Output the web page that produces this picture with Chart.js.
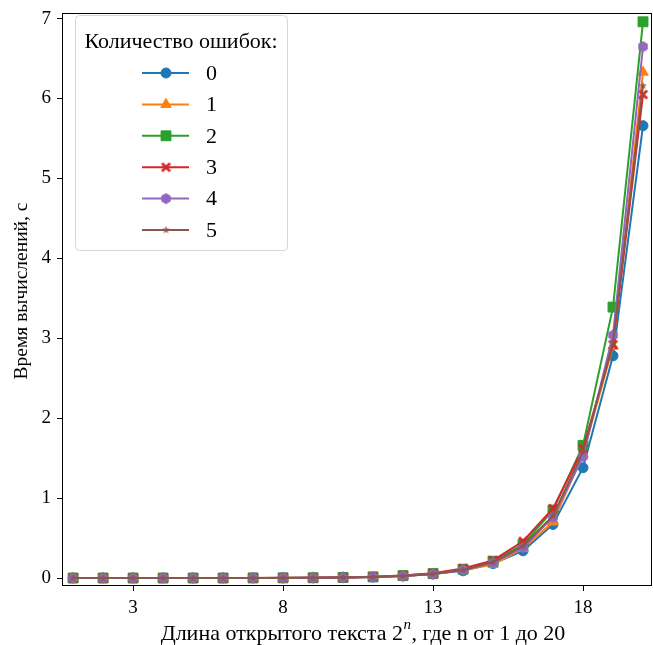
<!DOCTYPE html>
<html>
<head>
<meta charset="utf-8">
<script src="https://cdn.jsdelivr.net/npm/chart.js@4.4.1/dist/chart.umd.min.js"></script>
<style>
  body { margin: 0; background: #fff; }
  #wrap { width: 653px; height: 645px; }
</style>
</head>
<body>
<div id="wrap"><canvas id="chart" width="653" height="645"></canvas></div>
<script>
// n = 1..20, text length 2^n
const nValues = [1,2,3,4,5,6,7,8,9,10,11,12,13,14,15,16,17,18,19,20];
const xTicks = [3, 8, 13, 18];
const yTicks = [0, 1, 2, 3, 4, 5, 6, 7];
const errorLabels = ['0', '1', '2', '3', '4', '5'];

// time in seconds for each number of errors
const errors0 = [0,0,0,0,0,0,0.001,0.001,0.003,0.006,0.012,0.025,0.05,0.09,0.18,0.34,0.67,1.38,2.78,5.66];
const errors1 = [0,0,0,0,0,0,0.001,0.001,0.003,0.006,0.012,0.025,0.05,0.10,0.17,0.37,0.70,1.55,2.90,6.33];
const errors2 = [0,0,0,0,0,0,0.001,0.002,0.003,0.007,0.014,0.03,0.055,0.11,0.21,0.42,0.85,1.66,3.39,6.96];
const errors3 = [0,0,0,0,0,0,0.001,0.002,0.003,0.007,0.015,0.03,0.06,0.12,0.22,0.46,0.87,1.62,2.92,6.05];
const errors4 = [0,0,0,0,0,0,0.001,0.001,0.003,0.006,0.012,0.025,0.05,0.10,0.19,0.38,0.76,1.52,3.04,6.65];
const errors5 = [0,0,0,0,0,0,0.001,0.001,0.003,0.006,0.013,0.025,0.05,0.10,0.20,0.40,0.78,1.58,2.95,6.16];

const colors = ['#1f77b4', '#ff7f0e', '#2ca02c', '#d62728', '#9467bd', '#8c564b'];
const allSeries = [errors0, errors1, errors2, errors3, errors4, errors5];

// custom marker shapes (hexagon, filled X, filled star)
function markerCanvas(color, size, drawShape) {
    const c = document.createElement('canvas');
    c.width = size; c.height = size;
    const g = c.getContext('2d');
    g.fillStyle = color;
    g.beginPath();
    drawShape(g, size / 2);
    g.closePath();
    g.fill();
    return c;
}
function hexagon(g, h) {
    const r = h - 0.5;
    for (let i = 0; i < 6; i++) {
        const a = -Math.PI / 2 + i * Math.PI / 3;
        const px = h + r * Math.cos(a), py = h + r * Math.sin(a);
        if (i === 0) g.moveTo(px, py); else g.lineTo(px, py);
    }
}
function filledX(g, h) {
    const r = h - 0.5, w = r * 0.38;
    const pts = [[0,-w],[r-w,-r],[r,-r+w],[w,0],[r,r-w],[r-w,r],[0,w],[-r+w,r],[-r,r-w],[-w,0],[-r,-r+w],[-r+w,-r]];
    pts.forEach((p, i) => { if (i === 0) g.moveTo(h + p[0], h + p[1]); else g.lineTo(h + p[0], h + p[1]); });
}
function star(g, h) {
    const ro = h - 0.5, ri = ro * 0.42;
    for (let i = 0; i < 10; i++) {
        const a = -Math.PI / 2 + i * Math.PI / 5;
        const r = i % 2 === 0 ? ro : ri;
        const px = h + r * Math.cos(a), py = h + r * Math.sin(a);
        if (i === 0) g.moveTo(px, py); else g.lineTo(px, py);
    }
}

const pointStyles = [
    'circle',
    'triangle',
    'rect',
    markerCanvas(colors[3], 11, filledX),
    markerCanvas(colors[4], 12, hexagon),
    markerCanvas(colors[5], 9, star)
];
const pointRadii = [5, 6, 7, 5, 5, 4];

Chart.defaults.font.family = '"Liberation Serif", "Times New Roman", serif';
Chart.defaults.color = '#000';

const datasets = allSeries.map((values, i) => ({
    label: errorLabels[i],
    data: values.map((v, j) => ({ x: nValues[j], y: v })),
    borderColor: colors[i],
    backgroundColor: colors[i],
    borderWidth: 2,
    pointStyle: pointStyles[i],
    pointRadius: pointRadii[i],
    pointBorderWidth: 1,
    pointHoverRadius: pointRadii[i],
    order: allSeries.length - i,
    tension: 0,
    clip: false
}));

// legend in the upper-left corner, frame on all four sides, axis titles
const decorPlugin = {
    id: 'decor',
    afterDraw(chart) {
        const ctx = chart.ctx;
        const a = chart.chartArea;
        ctx.save();
        ctx.strokeStyle = '#000';
        ctx.lineWidth = 1;
        ctx.strokeRect(a.left + 0.5, a.top + 0.5, a.right - a.left - 1, a.bottom - a.top - 1);

        // legend box
        const bx = 75, by = 15, bw = 212, bh = 235;
        ctx.fillStyle = 'rgba(255,255,255,0.8)';
        ctx.strokeStyle = '#d6d6d6';
        ctx.beginPath();
        ctx.roundRect(bx + 0.5, by + 0.5, bw, bh, 4);
        ctx.fill();
        ctx.stroke();

        ctx.fillStyle = '#000';
        ctx.font = '22px "Liberation Serif"';
        ctx.textAlign = 'center';
        ctx.textBaseline = 'middle';
        ctx.fillText('Количество ошибок:', bx + bw / 2, 42);

        chart.data.datasets.forEach((ds, i) => {
            const y = 73 + i * 31.4;
            ctx.strokeStyle = ds.borderColor;
            ctx.lineWidth = 2;
            ctx.beginPath();
            ctx.moveTo(142, y);
            ctx.lineTo(189, y);
            ctx.stroke();
            ctx.fillStyle = ds.backgroundColor;
            ctx.strokeStyle = ds.borderColor;
            ctx.lineWidth = 1;
            Chart.helpers.drawPoint(ctx, {
                pointStyle: ds.pointStyle, radius: ds.pointRadius, borderWidth: 1, rotation: 0
            }, 166, y);
            ctx.fillStyle = '#000';
            ctx.textAlign = 'left';
            ctx.font = '22px "Liberation Serif"';
            ctx.fillText(ds.label, 206, y + 1);
        });

        // y axis title
        ctx.fillStyle = '#000';
        ctx.font = '19.5px "Liberation Serif"';
        ctx.textAlign = 'center';
        ctx.textBaseline = 'middle';
        ctx.save();
        ctx.translate(22, 291);
        ctx.rotate(-Math.PI / 2);
        ctx.fillText('Время вычислений, с', 0, 0);
        ctx.restore();

        // x axis title with superscript n
        const part1 = 'Длина открытого текста 2';
        const sup = 'n';
        const part2 = ', где n от 1 до 20';
        ctx.font = '22px "Liberation Serif"';
        const w1 = ctx.measureText(part1).width;
        const w3 = ctx.measureText(part2).width;
        ctx.font = 'italic 15px "Liberation Serif"';
        const w2 = ctx.measureText(sup).width + 1;
        let x = 363 - (w1 + w2 + w3) / 2;
        const ty = 634;
        ctx.textAlign = 'left';
        ctx.font = '22px "Liberation Serif"';
        ctx.fillText(part1, x, ty);
        x += w1;
        ctx.font = 'italic 15px "Liberation Serif"';
        ctx.fillText(sup, x + 0.5, ty - 9);
        x += w2;
        ctx.font = '22px "Liberation Serif"';
        ctx.fillText(part2, x, ty);
        ctx.restore();
    }
};

const ctx = document.getElementById('chart').getContext('2d');
const chart = new Chart(ctx, {
    type: 'line',
    data: { datasets: datasets },
    options: {
        responsive: false,
        animation: false,
        layout: { autoPadding: false, padding: { top: 13, right: 1, left: 0, bottom: 0 } },
        plugins: {
            legend: { display: false },
            tooltip: { enabled: false }
        },
        scales: {
            x: {
                type: 'linear',
                min: 0.63,
                max: 20.3,
                afterBuildTicks: scale => { scale.ticks = xTicks.map(v => ({ value: v })); },
                afterFit: scale => {
                    scale.height = 59;
                    scale.paddingLeft = 0; scale.paddingRight = 0;
                },
                grid: { drawOnChartArea: false, drawTicks: true, tickLength: 5, color: '#000' },
                border: { display: false },
                ticks: { font: { size: 19 }, padding: 6, maxRotation: 0 }
            },
            y: {
                type: 'linear',
                min: -0.1,
                max: 7.07,
                afterBuildTicks: scale => { scale.ticks = yTicks.map(v => ({ value: v })); },
                afterFit: scale => {
                    scale.width = 62;
                    scale.paddingTop = 0; scale.paddingBottom = 0;
                },
                grid: { drawOnChartArea: false, drawTicks: true, tickLength: 5, color: '#000' },
                border: { display: false },
                ticks: { font: { size: 19 }, padding: 6 }
            }
        }
    },
    plugins: [decorPlugin]
});
</script>
</body>
</html>
